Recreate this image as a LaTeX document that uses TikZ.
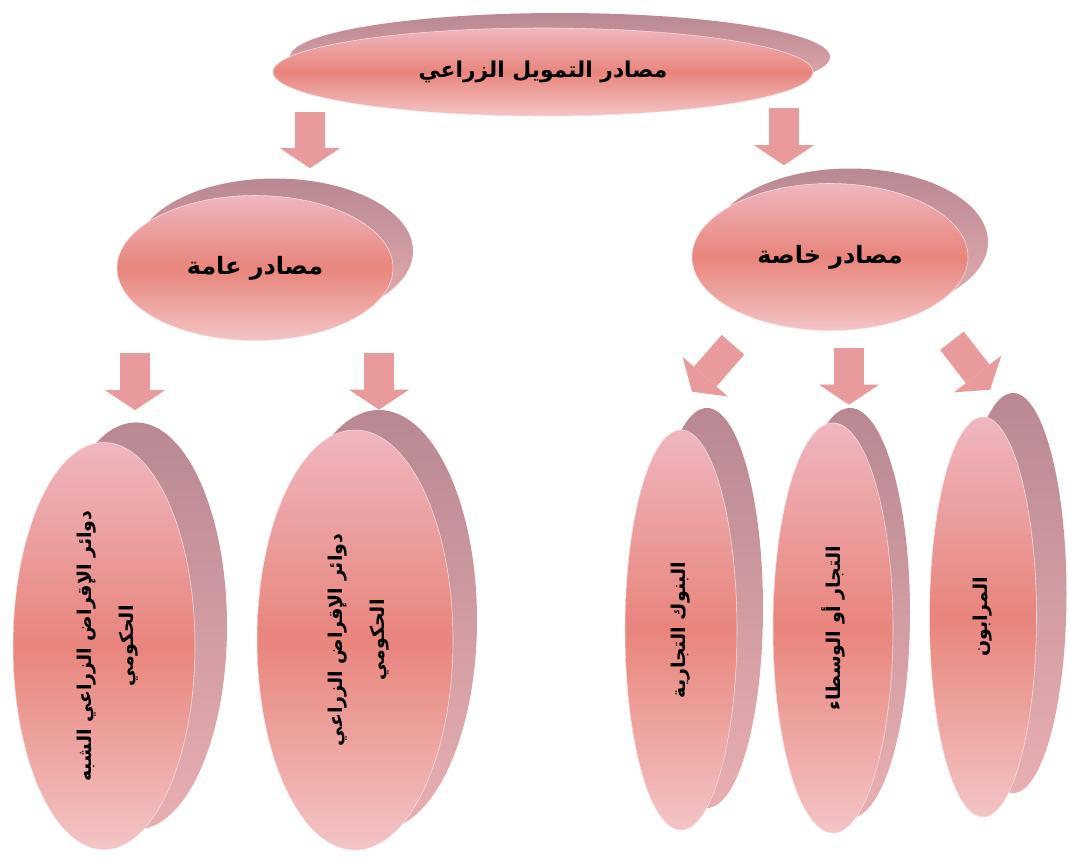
\documentclass[tikz,border=0pt]{standalone}
\usepackage{fontspec}
\usepackage{tikz}
\usetikzlibrary{arrows.meta,shapes.geometric,shadows,calc}
\newfontfamily\arabicfont[Script=Arabic]{DejaVu Sans}
\TeXXeTstate=1
\definecolor{facetop}{HTML}{EFB6BF}
\definecolor{facemid}{HTML}{E8857C}
\definecolor{facebot}{HTML}{F3C4C6}
\definecolor{rimtop}{HTML}{B98892}
\definecolor{rimbot}{HTML}{E8AFB2}
\definecolor{arrowpink}{HTML}{E99A9C}

\begin{document}
\begin{tikzpicture}[x=0.025cm, y=-0.025cm,
  disc/.style n args={4}{ellipse, inner sep=0pt, minimum width=#1*0.025cm, minimum height=#2*0.025cm, top color=facetop, bottom color=facebot, middle color=facemid, draw=white!55!facetop, general shadow={shadow xshift=#3*0.025cm, shadow yshift=#4*0.025cm, top color=rimtop, bottom color=rimbot}},
  headtext/.style={font=\arabicfont\bfseries\fontsize{17}{22}\selectfont},
  leaftext/.style={font=\arabicfont\bfseries\fontsize{13.5}{30}\selectfont},
  fatarrow/.style={draw=arrowpink, line width=0.75cm, -{Triangle[width=1.5cm, length=0.5cm, line width=0pt]}}
]
  \useasboundingbox (0,0) rectangle (1068,857);

  \node[disc={540}{88}{17}{15}, headtext, font=\arabicfont\bfseries\fontsize{15.5}{20}\selectfont] (root) at (543,72) {\beginR مصادر التمويل الزراعي\endR};
  \node[disc={276}{145}{20}{17}, headtext] (gen) at (255,268) {\beginR مصادر عامة\endR};
  \node[disc={276}{147}{20}{15}, headtext] (priv) at (830,257) {\beginR مصادر خاصة\endR};

  \node[disc={182}{407}{32}{20}, leaftext] (semigov) at (104,646) {\rotatebox{90}{\begin{tabular}{c}\beginR دوائر الإقراض الزراعي الشبه\endR\\ \beginR الحكومي\endR\end{tabular}}};
  \node[disc={196}{420}{24}{20}, leaftext] (gov) at (355,640) {\rotatebox{90}{\begin{tabular}{c}\beginR دوائر الإقراض الزراعي\endR\\ \beginR الحكومي\endR\end{tabular}}};
  \node[disc={112}{400}{26}{22}, leaftext] (banks) at (681,630) {\rotatebox{90}{\beginR البنوك التجارية\endR}};
  \node[disc={120}{410}{17}{15}, leaftext] (traders) at (833,628) {\rotatebox{90}{\beginR التجار أو الوسطاء\endR}};
  \node[disc={107}{400}{30}{24}, leaftext] (lenders) at (983,617) {\rotatebox{90}{\beginR المرابون\endR}};

  \draw[fatarrow] ($(root.south)+(-233,-4)$) -- ($(gen.north)+(55,-27)$);
  \draw[fatarrow] ($(root.south)+(241,-8)$) -- ($(priv.north)+(-46,-18)$);
  \draw[fatarrow] ($(gen.south)+(-120,12)$) -- ($(semigov.north)+(31,-32)$);
  \draw[fatarrow] ($(gen.south)+(124,12)$) -- ($(gov.north)+(24,-20)$);
  \draw[fatarrow] ($(priv.south)+(-97,14)$) -- ($(banks.north)+(11,-38)$);
  \draw[fatarrow] ($(priv.south)+(19,17)$) -- ($(traders.north)+(16,-18)$);
  \draw[fatarrow] ($(priv.south)+(122,10)$) -- ($(lenders.north)+(7,-27)$);
\end{tikzpicture}
\end{document}
